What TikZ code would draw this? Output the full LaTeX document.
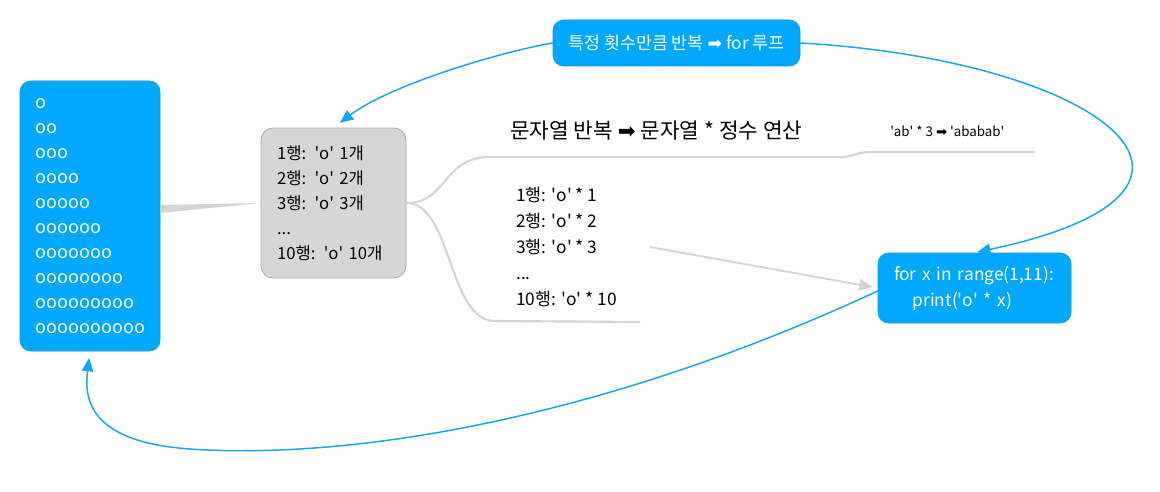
\documentclass[tikz,border=0pt]{standalone}
\usepackage{fontspec}
\setmainfont{Noto Sans CJK KR}
\newfontfamily\symf{DejaVu Sans}
\newcommand\rarr{{\symf ➡}}
\newcommand\q{\textquotesingle}
\usetikzlibrary{arrows.meta,calc}
\definecolor{boxblue}{RGB}{0,168,255}
\definecolor{boxblueedge}{RGB}{20,150,225}
\definecolor{arrowblue}{RGB}{20,165,245}
\definecolor{boxgray}{RGB}{214,214,214}
\definecolor{boxgrayedge}{RGB}{172,172,172}
\definecolor{linkgray}{RGB}{212,212,212}
\tikzset{
  bluebox/.style={draw=boxblueedge, line width=0.5pt, fill=boxblue, rounded corners=8pt, text=white},
  graybox/.style={draw=boxgrayedge, line width=0.6pt, fill=boxgray, rounded corners=9pt, text=black},
  branch/.style={draw=linkgray, line width=1.6pt},
  bluearrow/.style={draw=arrowblue, line width=1.1pt, -{Triangle[length=10pt,width=8.5pt]}},
  grayarrow/.style={draw=linkgray, line width=1.4pt, -{Triangle[length=10pt,width=8.5pt]}},
  plain/.style={inner sep=0pt, text=black}
}
\begin{document}
\begin{tikzpicture}[x=0.75pt,y=-0.75pt]
\useasboundingbox (0,0) rectangle (1160,492);

% left output box
\node[bluebox, minimum width=105pt, minimum height=202.5pt, text width=81pt, inner xsep=12pt, align=left,
      font=\fontsize{13.5}{18.75}\selectfont] (B) at (90,216)
  {o\\oo\\ooo\\oooo\\ooooo\\oooooo\\ooooooo\\oooooooo\\ooooooooo\\oooooooooo};

% gray analysis box
\node[graybox, minimum width=108.75pt, minimum height=112.5pt, text width=84.75pt, inner xsep=12pt, align=left,
      font=\fontsize{12.5}{18.75}\selectfont] (G) at (333.5,203)
  {1행: \q o\q{} 1개\\2행: \q o\q{} 2개\\3행: \q o\q{} 3개\\...\\10행: \q o\q{} 10개};

% top box
\node[bluebox, minimum width=185.25pt, minimum height=34.5pt, font=\fontsize{13}{15}\selectfont] (T) at (676.5,43)
  {특정 횟수만큼 반복 \rarr{} for 루프};

% for box
\node[bluebox, minimum width=144.75pt, minimum height=52.5pt, text width=120.75pt, inner xsep=12pt, align=left,
      font=\fontsize{13}{19.5}\selectfont] (F) at (974.5,288)
  {for x in range(1,11):\\\hspace*{14pt}print(\q o\q{} * x)};

% labels
\node[plain, anchor=west, font=\fontsize{16}{18}\selectfont] (H) at (510,131)
  {문자열 반복 \rarr{} 문자열 * 정수 연산};
\node[plain, anchor=west, font=\fontsize{10}{12}\selectfont] (S) at (890,131)
  {\q ab\q{} * 3 \rarr{} \q ababab\q};
\node[plain, anchor=west, align=left, font=\fontsize{13}{19.5}\selectfont] (R) at (516,247)
  {1행: \q o\q{} * 1\\2행: \q o\q{} * 2\\3행: \q o\q{} * 3\\...\\10행: \q o\q{} * 10};

% free ends
\coordinate (c1) at (1035,152);
\coordinate (c2) at (640,322);
\coordinate (g0) at (650,247);

% tapered link from output box to gray box
\fill[linkgray] ($(B.east)+(0,-11)$) -- (G.west) -- ($(B.east)+(0,-3)$) -- cycle;

% branches
\draw[branch] (G.east) .. controls (448,203) and (442,157) .. (490,157) -- (840,157)
  .. controls (855,157) and (855,152) .. (872,152) -- (c1);
\draw[branch] (G.east) .. controls (452,203) and (448,321) .. (495,321) -- (c2);

% gray arrow
\draw[grayarrow, shorten >=4pt] (g0) -- (F.west);

% blue arrows
\draw[bluearrow, shorten >=6pt] (T.west) .. controls (500,52) and (390,85) .. (G.north);
\draw[bluearrow, shorten >=2pt] (T.east) .. controls (1100,60) and (1270,190) .. (F.north);
\draw[bluearrow, shorten >=5pt] ($(F.west)+(0,3)$) .. controls (600,420) and (350,460) .. (190,449)
  .. controls (90,442) and (84,400) .. (B.south);
\end{tikzpicture}
\end{document}
